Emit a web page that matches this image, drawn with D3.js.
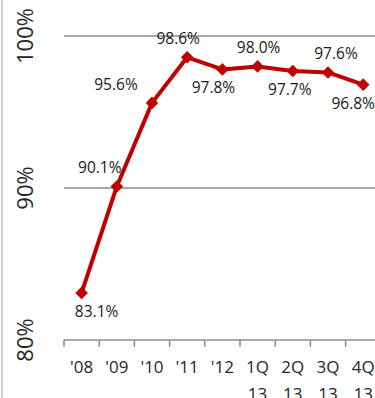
<!DOCTYPE html>
<html>
<head>
<meta charset="utf-8">
<script src="https://cdn.jsdelivr.net/npm/d3@7"></script>
<style>
  body { margin: 0; background: #fff; }
  svg { display: block; font-family: "Open Sans", sans-serif; }
</style>
</head>
<body>
<div id="chart"></div>
<script>
// chart data
var categories = ["'08", "'09", "'10", "'11", "'12", "1Q 13", "2Q 13", "3Q 13", "4Q 13"];
var values = [83.1, 90.1, 95.6, 98.6, 97.8, 98.0, 97.7, 97.6, 96.8];
var yTicks = [80, 90, 100];
// where each data label sits relative to its point
var labelSide = ["below", "above", "above", "above", "below", "above", "below", "above", "below"];
var labelShift = [15, -17, -36, -9, -9, 1, -3, 8, -10];

var width = 375, height = 398;

var svg = d3.select("#chart")
  .append("svg")
  .attr("width", width)
  .attr("height", height);

var x = d3.scaleBand()
  .domain(categories)
  .range([64, 380.8]);

var y = d3.scaleLinear()
  .domain([80, 100])
  .range([340, 36]);

// left border
svg.append("line")
  .attr("x1", 2).attr("x2", 2)
  .attr("y1", 0).attr("y2", height)
  .attr("stroke", "#bfbfbf")
  .attr("stroke-width", 1.5);

// gridlines
svg.append("g")
  .selectAll("line")
  .data(yTicks.filter(function(d) { return d > 80; }))
  .enter().append("line")
  .attr("x1", 64).attr("x2", width)
  .attr("y1", function(d) { return y(d); })
  .attr("y2", function(d) { return y(d); })
  .attr("stroke", "#8c8c8c")
  .attr("stroke-width", 1.5);

// y labels, rotated
svg.append("g")
  .selectAll("text")
  .data(yTicks)
  .enter().append("text")
  .attr("transform", function(d) { return "translate(33," + y(d) + ") rotate(-90)"; })
  .attr("text-anchor", "middle")
  .attr("font-size", 22)
  .attr("fill", "#262626")
  .text(function(d) { return d + "%"; });

// x axis with ticks at category boundaries
var xAxis = svg.append("g");
xAxis.append("line")
  .attr("x1", 64).attr("x2", width)
  .attr("y1", y(80)).attr("y2", y(80))
  .attr("stroke", "#8c8c8c")
  .attr("stroke-width", 1.5);
xAxis.selectAll(".tick")
  .data(categories)
  .enter().append("line")
  .attr("x1", function(d) { return x(d); })
  .attr("x2", function(d) { return x(d); })
  .attr("y1", y(80)).attr("y2", y(80) + 7)
  .attr("stroke", "#8c8c8c")
  .attr("stroke-width", 1.5);

var xl = xAxis.selectAll(".xlabel")
  .data(categories)
  .enter().append("text")
  .attr("text-anchor", "middle")
  .attr("font-size", 17)
  .attr("fill", "#262626");
xl.each(function(d) {
  var parts = d.split(" ");
  var t = d3.select(this);
  parts.forEach(function(p, i) {
    t.append("tspan")
      .attr("x", x(d) + x.bandwidth() / 2)
      .attr("y", 373 + i * 27)
      .text(p);
  });
});

// the line
var line = d3.line()
  .x(function(d, i) { return x(categories[i]) + x.bandwidth() / 2; })
  .y(function(d) { return y(d); });

svg.append("path")
  .datum(values)
  .attr("d", line)
  .attr("fill", "none")
  .attr("stroke", "#c00000")
  .attr("stroke-width", 4)
  .attr("stroke-linejoin", "round");

// diamond markers
svg.append("g")
  .selectAll("path")
  .data(values)
  .enter().append("path")
  .attr("d", d3.symbol().type(d3.symbolSquare).size(80))
  .attr("transform", function(d, i) {
    return "translate(" + (x(categories[i]) + x.bandwidth() / 2) + "," + y(d) + ") rotate(45)";
  })
  .attr("fill", "#c00000");

// data labels
svg.append("g")
  .selectAll("text")
  .data(values)
  .enter().append("text")
  .attr("x", function(d, i) { return x(categories[i]) + x.bandwidth() / 2 + labelShift[i]; })
  .attr("y", function(d, i) { return labelSide[i] == "above" ? y(d) - 13 : y(d) + 24; })
  .attr("text-anchor", "middle")
  .attr("font-size", 15.5)
  .attr("fill", "#1a1a1a")
  .text(function(d) { return d.toFixed(1) + "%"; });
</script>
</body>
</html>
